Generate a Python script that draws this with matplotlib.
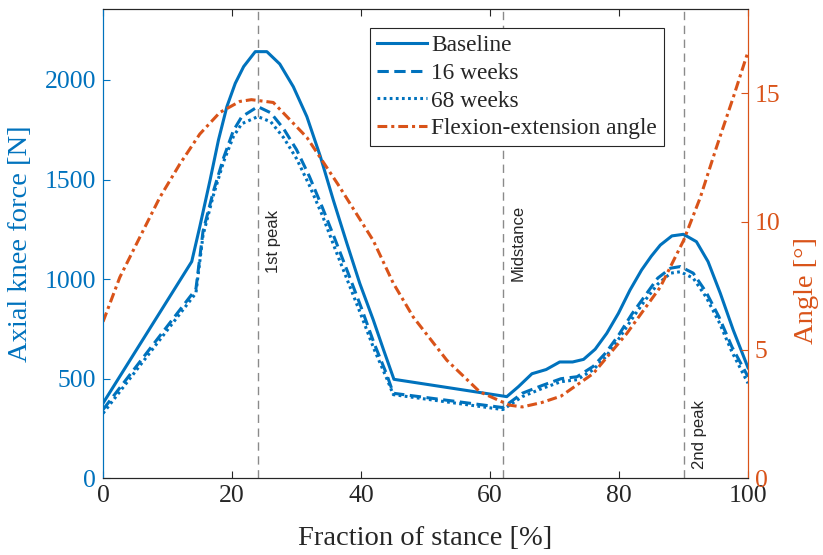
import numpy as np
import matplotlib.pyplot as plt

# stance fraction [%] and axial knee force [N], baseline session
stance_base = [0, 13.75, 15.0, 16.6, 17.9, 19.2, 20.5, 21.8, 23.6, 25.4, 27.4, 29.5,
               31.6, 33.7, 35.7, 37.8, 39.8, 41.9, 43.5, 45.1, 62.6, 64.4, 66.5, 68.7,
               70.8, 72.8, 74.5, 76.3, 78.1, 79.9, 81.7, 83.5, 85.0, 86.4, 88.2, 90.0,
               92.0, 93.8, 95.7, 97.7, 100]
force_base = [377, 1088, 1263, 1498, 1699, 1866, 1983, 2067, 2142, 2142, 2080, 1966,
              1816, 1615, 1397, 1180, 979, 795, 644, 497, 410, 460, 525, 546,
              584, 584, 597, 648, 728, 828, 945, 1046, 1115, 1171, 1217, 1225,
              1188, 1088, 929, 745, 555]

# follow-up sessions share one stance grid
stance_fu = [0, 14.4, 15.5, 17.1, 18.7, 20.2, 21.5, 24, 26, 28, 30, 32, 34, 36, 38,
             40, 42, 44, 45, 62, 65, 68, 71, 73.5, 76, 78, 80, 82, 84, 86, 88, 89.5,
             91.5, 93.5, 95.5, 97.5, 100]
force_16w = [345, 950, 1240, 1440, 1610, 1745, 1815, 1866, 1835, 1755, 1650, 1515,
             1360, 1197, 1030, 860, 680, 520, 427, 355, 427, 465, 500, 510, 562,
             632, 722, 825, 915, 1005, 1055, 1063, 1030, 935, 810, 660, 510]
force_68w = [326, 930, 1220, 1420, 1590, 1715, 1780, 1816, 1790, 1710, 1605, 1470,
             1320, 1150, 985, 820, 650, 500, 420, 345, 410, 450, 485, 495, 545,
             612, 702, 800, 892, 975, 1030, 1037, 1005, 910, 785, 635, 477]

# knee flexion-extension angle [deg]
stance_ang = [0, 2.6, 5.7, 8.8, 11.9, 15, 18.1, 21.2, 23, 26.4, 31.6, 36.4, 41.9,
              45, 48.1, 53.3, 58.4, 63, 65, 68, 71, 76, 81.2, 86.4, 90, 92.6, 95.1,
              97.7, 100]
angle = [6.1, 7.83, 9.39, 10.94, 12.24, 13.41, 14.25, 14.68, 14.75, 14.64, 13.28,
         11.46, 9.26, 7.6, 6.28, 4.6, 3.37, 2.85, 2.78, 2.95, 3.2, 4.08, 5.64, 7.45,
         9.26, 10.94, 12.89, 14.83, 16.62]

events = [24, 62, 90]
event_names = ['1st peak', 'Midstance', '2nd peak']
event_text_y = [1030, 990, 45]

blue = '#0072BD'
orange = '#D95319'
dark = '#262626'

plt.rcParams['font.family'] = ['Liberation Serif', 'DejaVu Serif']

fig = plt.figure(figsize=(8.23, 5.55), dpi=100)
ax = fig.add_axes([0.1252, 0.1382, 0.7837, 0.8456])
ax2 = ax.twinx()

lw = 2.2
h1, = ax.plot(stance_base, force_base, color=blue, lw=lw, label='Baseline')
h2, = ax.plot(stance_fu, force_16w, color=blue, lw=lw, ls=(0, (3.7, 1.8)), label='16 weeks')
h3, = ax.plot(stance_fu, force_68w, color=blue, lw=lw, ls=(0, (0.9, 1.1)), label='68 weeks')
h4, = ax2.plot(stance_ang, angle, color=orange, lw=lw, ls=(0, (3.2, 1.3, 1.0, 1.3)),
               label='Flexion-extension angle')

for xe, name, ye in zip(events, event_names, event_text_y):
    ax.axvline(xe, color='#8a8a8a', lw=1.0, dashes=(6, 4), zorder=1)
    ax.text(xe + 2.4, ye, name, rotation=90, ha='center', va='bottom',
            fontsize=12, family='Liberation Sans', color=dark)

ax.set_xlim(0, 100)
ax.set_ylim(0, 1.1 * max(force_base))
ax2.set_ylim(0, 1.1 * max(angle))
ax.set_xticks(np.arange(0, 101, 20))
ax.set_yticks(np.arange(0, 2001, 500))
ax2.set_yticks([0, 5, 10, 15])

ax.tick_params(axis='x', direction='in', length=5, width=0.8, colors=dark,
               labelsize=18.5, pad=5, top=True)
ax.tick_params(axis='y', direction='in', length=5, width=0.8, colors=blue,
               labelsize=18.5, pad=5)
ax2.tick_params(axis='y', direction='in', length=5, width=0.8, colors=orange,
                labelsize=18.5, pad=5)

for a in (ax, ax2):
    a.spines['top'].set_color(dark)
    a.spines['bottom'].set_color(dark)
    a.spines['left'].set_color(blue)
    a.spines['right'].set_color(orange)
    for s in a.spines.values():
        s.set_linewidth(0.8)

ax.set_xlabel('Fraction of stance [%]', fontsize=20.5, color=dark)
ax.set_ylabel('Axial knee force [N]', fontsize=20.5, color=blue)
ax2.set_ylabel('Angle [°]', fontsize=20.5, color=orange)
ax.xaxis.set_label_coords(0.499, -0.102)
ax.yaxis.set_label_coords(-0.108, 0.5)
ax2.yaxis.set_label_coords(1.071, 0.40)

leg = ax2.legend(handles=[h1, h2, h3, h4], loc='upper left',
                 bbox_to_anchor=(0.414, 0.9595), borderaxespad=0,
                 fontsize=16.8, handlelength=2.15, handletextpad=0.2,
                 labelspacing=0.28, borderpad=0.28, fancybox=False,
                 edgecolor=dark, framealpha=1)
leg.get_frame().set_linewidth(0.8)
for t in leg.get_texts():
    t.set_color(dark)

fig.savefig('out.png', dpi=100)
